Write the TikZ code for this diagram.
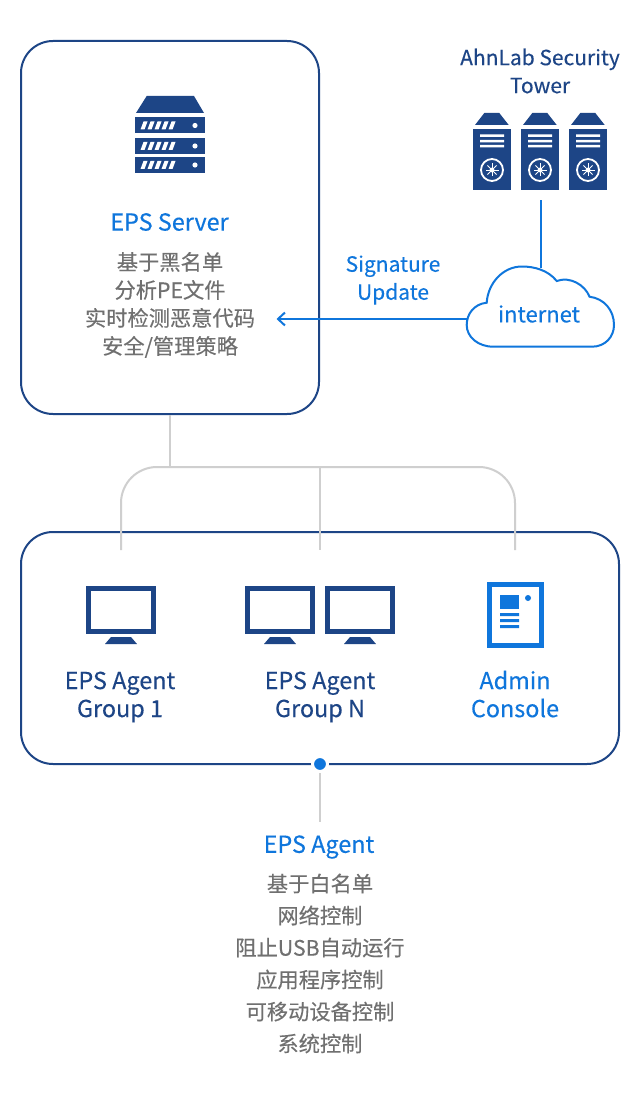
\documentclass[tikz,border=0pt]{standalone}
\usepackage{fontspec}
\setmainfont{Noto Sans CJK SC}[RawFeature={embolden=0.25}]
\usetikzlibrary{arrows.meta}
\definecolor{navy}{HTML}{1D4586}
\definecolor{brand}{HTML}{0F76DC}
\definecolor{graytxt}{HTML}{707070}
\definecolor{graylink}{HTML}{CFCFCF}
\tikzset{
  panel/.style={draw=navy,line width=2pt,rounded corners=32pt,inner sep=0pt,fill=white},
  bluehead/.style={text=brand,font=\fontsize{23.4}{28}\selectfont,align=center,inner sep=0pt},
  navyhead/.style={text=navy,font=\fontsize{23.4}{28}\selectfont,align=center,inner sep=0pt},
  bodytxt/.style={text=graytxt,font=\fontsize{21.25}{28}\selectfont,align=center,inner sep=0pt},
  bodytxtb/.style={text=graytxt,font=\fontsize{21.25}{32}\selectfont,align=center,inner sep=0pt},
  graywire/.style={draw=graylink,line width=2pt},
  bluewire/.style={draw=brand,line width=2pt},
  cloudline/.style={draw=brand,line width=2pt,fill=white},
  hubdot/.style={circle,fill=brand,draw=white,line width=3pt,minimum size=15pt,inner sep=0pt},
}
\newcommand{\towericon}[1]{%
  \begin{scope}[shift={(#1,0)}]
    \fill[navy] (11.3,113) -- (26.3,113) -- (35.7,125) -- (2,125) -- cycle;
    \fill[navy] (0,129) rectangle (38,190);
    \fill[white] (7,134.5) rectangle (31,137) (7,139.8) rectangle (31,142.3) (7,145) rectangle (31,147.5);
    \draw[white,line width=1.8pt] (19,170) circle (11);
    \foreach \a in {0,45,...,315}{\draw[white,line width=0.9pt] (19,170) -- +(\a:6.5);}
    \fill[white] (19,170) circle (2.4);
  \end{scope}}
\newcommand{\monitoricon}[1]{%
  \begin{scope}[shift={(#1,0)}]
    \draw[navy,line width=4.6pt] (2.3,588.3) rectangle (67.7,631.7);
    \fill[navy] (25,637) -- (45,637) -- (51,644) -- (19,644) -- cycle;
  \end{scope}}
\newcommand{\serverbar}[1]{%
  \begin{scope}[shift={(0,#1)}]
    \fill[navy] (135,0) rectangle (205,16);
    \foreach \s in {0,7,...,28}{\fill[white] (143.5+\s,4) -- (147.5+\s,4) -- (144.5+\s,12) -- (140.5+\s,12) -- cycle;}
    \fill[white] (195,8) circle (2.6);
  \end{scope}}
\begin{document}
\begin{tikzpicture}[x=1pt,y=-1pt]
\useasboundingbox (0,0) rectangle (640,1094);
\fill[white] (0,0) rectangle (640,1094);

% connectors under the panels
\node[panel,minimum width=298pt,minimum height=373pt] (server) at (170,227.5) {};
\node[panel,minimum width=598pt,minimum height=232pt] (agents) at (320,648) {};
\coordinate (bus) at (170,467);
\coordinate (g1) at (121,550);
\coordinate (gn) at (320,550);
\coordinate (adm) at (515,550);
\coordinate (bgn) at (320,467);
\draw[graywire] (server.south) -- (bus);
\draw[graywire,rounded corners=36pt] (g1) -- (121,467) -- (515,467) -- (adm);
\draw[graywire] (bgn) -- (gn);

% server icon and text
\fill[navy] (146.7,96) -- (194,96) -- (204,113) -- (136,113) -- cycle;
\serverbar{117.5}\serverbar{138}\serverbar{157}
\node[bluehead] (servertitle) at (169.5,222) {EPS Server};
\node[bodytxt] (serverbody) at (170,305) {基于黑名单\\分析PE文件\\实时检测恶意代码\\安全/管理策略};

% security tower
\node[text=navy,font=\fontsize{21}{28}\selectfont,align=center,inner sep=0pt] (tower) at (540,71) {AhnLab Security\\Tower};
\towericon{473}\towericon{521}\towericon{569}
\coordinate (towerfoot) at (541,200);

% cloud
\coordinate (cloudtop) at (541,268);
\draw[bluewire] (towerfoot) -- (cloudtop);
\draw[cloudline] (493.5,346.7) -- (592,346.7)
  .. controls (605,346.7) and (614,337) .. (614,325)
  .. controls (614,310) and (604,298.5) .. (589.5,296.7)
  .. controls (585,285) and (570,276) .. (556.7,281)
  .. controls (548,270) and (534,266.5) .. (522,266.5)
  .. controls (503,266.5) and (488,283) .. (486.7,302.7)
  .. controls (474,304) and (466.7,314) .. (466.7,325)
  .. controls (466.7,337) and (478,346.7) .. (493.5,346.7) -- cycle;
\node[text=brand,font=\fontsize{22}{26}\selectfont,inner sep=0pt] (internet) at (539,314) {internet};
\coordinate (cloudleft) at (466.7,319);
\coordinate (arrowend) at (276.5,319);
\draw[bluewire,-{Straight Barb[length=7pt,width=13pt,line width=2pt]}] (cloudleft) -- (arrowend);
\node[text=brand,font=\fontsize{21}{28}\selectfont,align=center,inner sep=0pt] (sig) at (393,280) {Signature\\Update};

% agent panel content
\monitoricon{86}
\monitoricon{245}\monitoricon{325}
\draw[brand,line width=5pt] (489.5,584.2) rectangle (541.5,645.2);
\fill[brand] (500,595) rectangle (519,608.7);
\fill[brand] (528,598) circle (3);
\fill[brand] (500,613) rectangle (519,616) (500,619) rectangle (519,622) (500,625) rectangle (519,628);
\node[navyhead] (grp1) at (120,697) {EPS Agent\\Group 1};
\node[navyhead] (grpn) at (320,697) {EPS Agent\\Group N};
\node[bluehead] (console) at (515,694) {Admin\\Console};

% lower stem
\node[hubdot] (dot) at (320,764) {};
\coordinate (stem) at (320,822);
\draw[graywire] (dot) -- (stem);
\node[bluehead] (agenttitle) at (319,847) {EPS Agent};
\node[bodytxtb] (agentbody) at (320,963.5) {基于白名单\\网络控制\\阻止USB自动运行\\应用程序控制\\可移动设备控制\\系统控制};
\end{tikzpicture}
\end{document}
